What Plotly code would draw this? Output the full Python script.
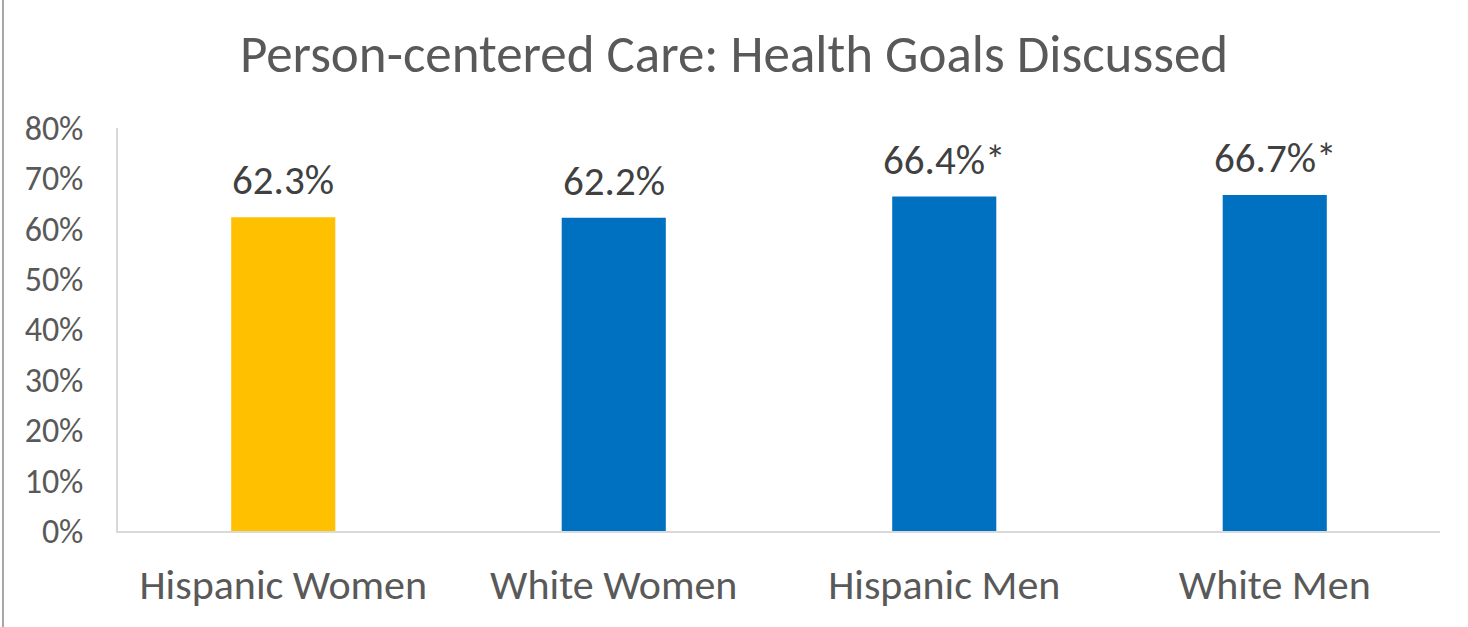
import plotly.graph_objects as go

categories = ["Hispanic Women", "White Women", "Hispanic Men", "White Men"]
values = [62.3, 62.2, 66.4, 66.7]
markers = ["", "", "*", "*"]
colors = ["#FFC000", "#0070C0", "#0070C0", "#0070C0"]
y_ticks = [0, 10, 20, 30, 40, 50, 60, 70, 80]
y_tick_labels = [f"{t}%" for t in y_ticks]
title_text = "Person-centered Care: Health Goals Discussed"

FONT = "Carlito, Calibri, Lato, sans-serif"

fig = go.Figure(
    go.Bar(
        x=categories,
        y=values,
        marker=dict(color=colors, line=dict(width=0)),
        width=0.315,
        hoverinfo="x+y",
    )
)

# value labels above each bar
for cat, v, m in zip(categories, values, markers):
    fig.add_annotation(
        x=cat, y=v, text=f"{v:.1f}%{m}",
        showarrow=False, yanchor="bottom", yshift=10,
        font=dict(family=FONT, size=41, color="#404040"),
    )

fig.update_layout(
    width=1468, height=627,
    margin=dict(l=118, r=28, t=128, b=96, autoexpand=False),
    paper_bgcolor="white", plot_bgcolor="white",
    showlegend=False,
    title=dict(
        text=title_text, x=0.5, xanchor="center", y=0.915, yanchor="middle",
        font=dict(family=FONT, size=53, color="#595959"),
    ),
    xaxis=dict(
        showline=True, linecolor="#D9D9D9", linewidth=2,
        showgrid=False, ticks="", ticklabelstandoff=16, automargin=False,
        tickfont=dict(family=FONT, size=42, color="#595959"),
    ),
    yaxis=dict(
        range=[0, 80], tickvals=y_ticks, ticktext=y_tick_labels,
        showline=True, linecolor="#D9D9D9", linewidth=1.5, automargin=False,
        showgrid=False, zeroline=False, ticks="", ticklabelstandoff=26,
        tickfont=dict(family=FONT, size=34, color="#595959"),
    ),
    shapes=[
        dict(type="line", xref="paper", yref="paper", x0=-0.087, x1=1.03,
             y0=1.328, y1=1.328, line=dict(color="#A6A6A6", width=2)),
        dict(type="line", xref="paper", yref="paper", x0=-0.087, x1=-0.087,
             y0=-0.3, y1=1.328, line=dict(color="#A6A6A6", width=2)),
    ],
)

fig.write_html("out.html")
